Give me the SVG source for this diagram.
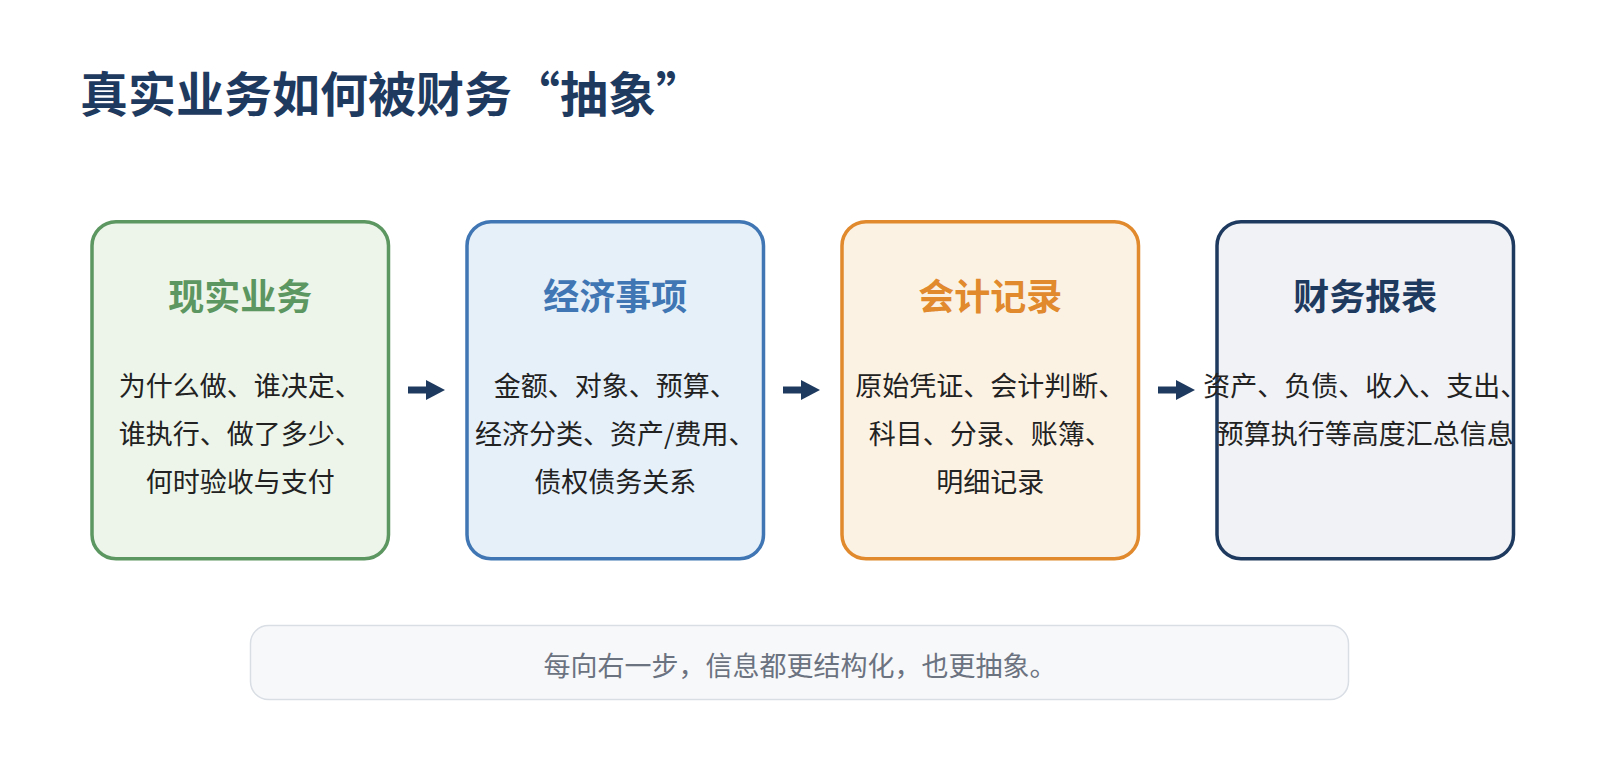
<svg xmlns="http://www.w3.org/2000/svg" width="1600" height="760" viewBox="0 0 1600 760">
  <defs>
    <style>
      text { font-family: "Noto Sans CJK SC", "Noto Sans", sans-serif; }
      .title { font-size: 48px; font-weight: 700; fill: #1f3a5f; }
      .box { stroke-width: 3.5; }
      .head { font-size: 36px; font-weight: 700; text-anchor: middle; }
      .body { font-size: 27px; fill: #222222; text-anchor: middle; }
      .note { font-size: 27px; fill: #6b7280; text-anchor: middle; }
      .conn { stroke: #1f3a5f; stroke-width: 7; fill: none; }
    </style>
    <marker id="arrow" markerUnits="userSpaceOnUse" markerWidth="20" markerHeight="20" refX="0" refY="10" orient="auto">
      <path d="M0,0 L19,10 L0,20 Z" fill="#1f3a5f"/>
    </marker>
  </defs>

  <rect width="1600" height="760" fill="#ffffff"/>

  <text class="title" x="80" y="112">真实业务如何被财务“抽象”</text>

  <g id="node-reality">
    <rect class="box" x="92" y="221.75" width="296.5" height="337" rx="24" fill="#edf5ea" stroke="#5c9660"/>
    <text class="head" x="240.25" y="310" fill="#5c9660">现实业务</text>
    <text class="body" x="240.25" y="396">为什么做、谁决定、</text>
    <text class="body" x="240.25" y="444">谁执行、做了多少、</text>
    <text class="body" x="240.25" y="492">何时验收与支付</text>
  </g>

  <g id="node-economic">
    <rect class="box" x="467" y="221.75" width="296.5" height="337" rx="24" fill="#e6f0f9" stroke="#3f76b3"/>
    <text class="head" x="615.25" y="310" fill="#3f76b3">经济事项</text>
    <text class="body" x="615.25" y="396">金额、对象、预算、</text>
    <text class="body" x="615.25" y="444">经济分类、资产/费用、</text>
    <text class="body" x="615.25" y="492">债权债务关系</text>
  </g>

  <g id="node-accounting">
    <rect class="box" x="842" y="221.75" width="296.5" height="337" rx="24" fill="#fcf2e4" stroke="#e0892d"/>
    <text class="head" x="990.25" y="310" fill="#e0892d">会计记录</text>
    <text class="body" x="990.25" y="396">原始凭证、会计判断、</text>
    <text class="body" x="990.25" y="444">科目、分录、账簿、</text>
    <text class="body" x="990.25" y="492">明细记录</text>
  </g>

  <g id="node-report">
    <rect class="box" x="1217" y="221.75" width="296.5" height="337" rx="24" fill="#f0f2f6" stroke="#1f3a5f"/>
    <text class="head" x="1365.25" y="310" fill="#1f3a5f">财务报表</text>
    <text class="body" x="1365.25" y="396">资产、负债、收入、支出、</text>
    <text class="body" x="1365.25" y="444">预算执行等高度汇总信息</text>
  </g>

  <g id="connectors">
    <line class="conn" x1="408" y1="390" x2="426" y2="390" marker-end="url(#arrow)"/>
    <line class="conn" x1="783" y1="390" x2="801" y2="390" marker-end="url(#arrow)"/>
    <line class="conn" x1="1158" y1="390" x2="1176" y2="390" marker-end="url(#arrow)"/>
  </g>

  <g id="note">
    <rect x="250.5" y="625.5" width="1098" height="74" rx="18" fill="#f7f8fa" stroke="#d9dee5" stroke-width="1.5"/>
    <text class="note" x="800" y="676">每向右一步，信息都更结构化，也更抽象。</text>
  </g>
</svg>
